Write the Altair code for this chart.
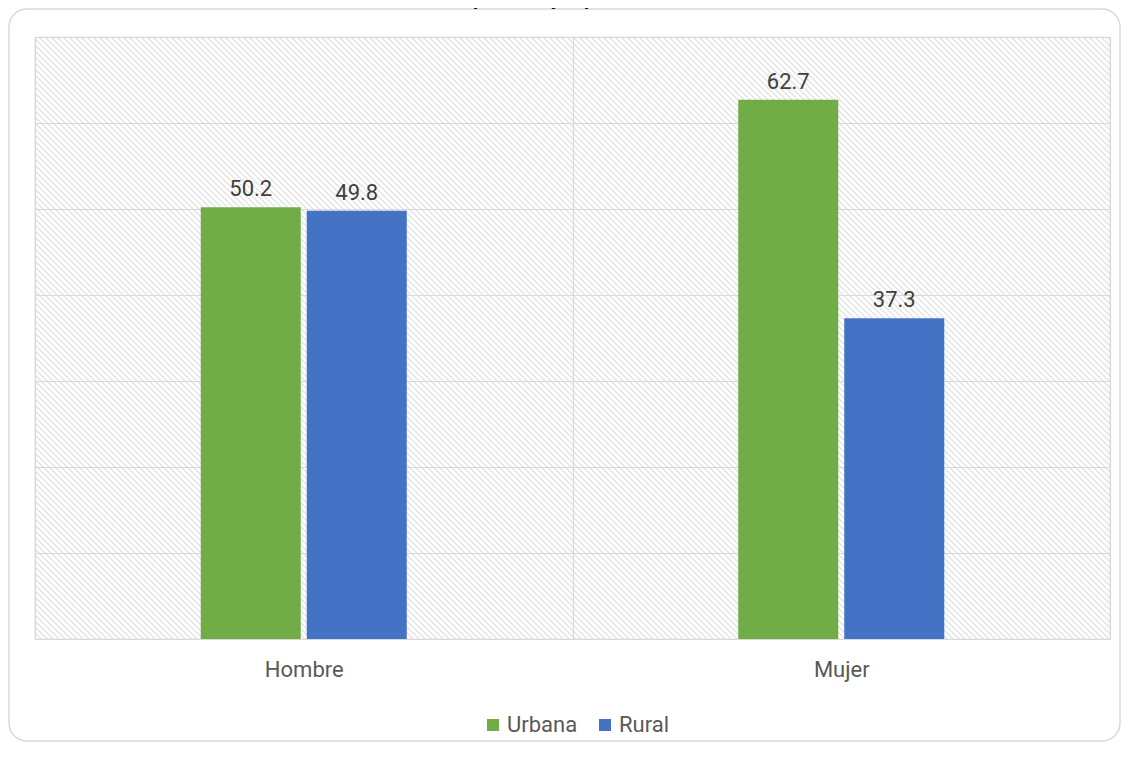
import altair as alt
import pandas as pd

# ---- data ----
categories = ["Hombre", "Mujer"]
series = ["Urbana", "Rural"]
urbana = [50.2, 62.7]
rural = [49.8, 37.3]
y_ticks = [0, 10, 20, 30, 40, 50, 60, 70]
title_text = "porcentajes por sexo"
colors = ["#70AD47", "#4472C4"]

rows = []
for i, c in enumerate(categories):
    rows.append({"Sexo": c, "Zona": series[0], "Valor": urbana[i]})
    rows.append({"Sexo": c, "Zona": series[1], "Valor": rural[i]})
df = pd.DataFrame(rows)
one = pd.DataFrame({"k": [0]})

W, H = 1075, 602

# ---- diagonal hatch texture for the plot background (style only) ----
# square tiles, each filled with a soft striped gradient; stripes continue across tiles
CLEAR = "rgba(215,215,215,0)"
STRIPE = "rgba(215,215,215,0.75)"
TILE = 96
HPERIOD = 6
n = 2 * TILE // HPERIOD
stops = []
for k in range(n):
    stops += [
        alt.GradientStop(offset=round(k / n, 6), color=CLEAR),
        alt.GradientStop(offset=round((k + 0.35) / n, 6), color=CLEAR),
        alt.GradientStop(offset=round((k + 0.7) / n, 6), color=STRIPE),
    ]
stops.append(alt.GradientStop(offset=1, color=CLEAR))
grad = alt.LinearGradient(gradient="linear", stops=stops, x1=0, y1=1, x2=1, y2=0)
tiles = pd.DataFrame(
    [{"tx": i * TILE, "tx2": (i + 1) * TILE, "ty": j * TILE, "ty2": (j + 1) * TILE}
     for i in range(W // TILE + 1) for j in range(H // TILE + 1)]
)

x_enc = alt.X("Sexo:N", sort=categories,
              scale=alt.Scale(paddingInner=0, paddingOuter=0),
              axis=alt.Axis(title=None, labelAngle=0, tickBand="extent", grid=True,
                            gridColor="#d9d9d9", gridWidth=1.2, domain=False, ticks=False,
                            tickSize=0, labelFontSize=22, labelFont="Roboto",
                            labelColor="#595959", labelPadding=20, labelBaseline="top"))
xo_enc = alt.XOffset("Zona:N", sort=series,
                     scale=alt.Scale(range=[165.75, 371.75], paddingInner=0.0566,
                                     paddingOuter=0))
y_enc = alt.Y("Valor:Q", scale=alt.Scale(domain=[0, 70], nice=False),
              axis=alt.Axis(values=y_ticks, labels=False, ticks=False, domain=False,
                            title=None, grid=True, gridColor="#d9d9d9", gridWidth=1.2))

hatch = alt.Chart(tiles).mark_rect(fill=grad, strokeWidth=0, clip=True).encode(
    x=alt.X("tx:Q", scale=None), x2="tx2:Q",
    y=alt.Y("ty:Q", scale=None), y2="ty2:Q")

bars = alt.Chart(df).mark_bar().encode(
    x=x_enc, xOffset=xo_enc, y=y_enc,
    color=alt.Color("Zona:N", sort=series,
                    scale=alt.Scale(domain=series, range=colors),
                    legend=alt.Legend(orient="none", legendX=447, legendY=677,
                                      direction="horizontal", title=None,
                                      symbolType="square", symbolSize=144,
                                      symbolStrokeWidth=0, symbolOpacity=1,
                                      labelFontSize=22, labelFont="Roboto",
                                      labelColor="#595959", columnPadding=16,
                                      labelOffset=3)),
)

labels = alt.Chart(df).mark_text(dy=-11, baseline="alphabetic", fontSize=22,
                                 font="Roboto", color="#404040").encode(
    x=x_enc, xOffset=xo_enc, y=y_enc,
    text=alt.Text("Valor:Q", format=".1f"),
)

border = alt.Chart(one).mark_rect(filled=False, stroke="#d9d9d9", strokeWidth=1.5,
                                  cornerRadius=18).encode(
    x=alt.value(-26), x2=alt.value(1085), y=alt.value(-28), y2=alt.value(704))

title = alt.Chart(one).mark_text(font="Roboto", fontSize=20, fontWeight="bold",
                                 color="#000000", baseline="alphabetic",
                                 align="center").encode(
    x=alt.value(532), y=alt.value(-32), text=alt.value(title_text))

chart = alt.layer(hatch, border, title, bars, labels).properties(
    width=W, height=H,
    padding={"left": 27, "top": 29, "right": 12, "bottom": 104},
    autosize=alt.AutoSizeParams(type="none"),
    background="#ffffff",
).configure_view(stroke="#d9d9d9", strokeWidth=1.2)

chart.save("out.html", embed_options={"renderer": "svg", "actions": False})
